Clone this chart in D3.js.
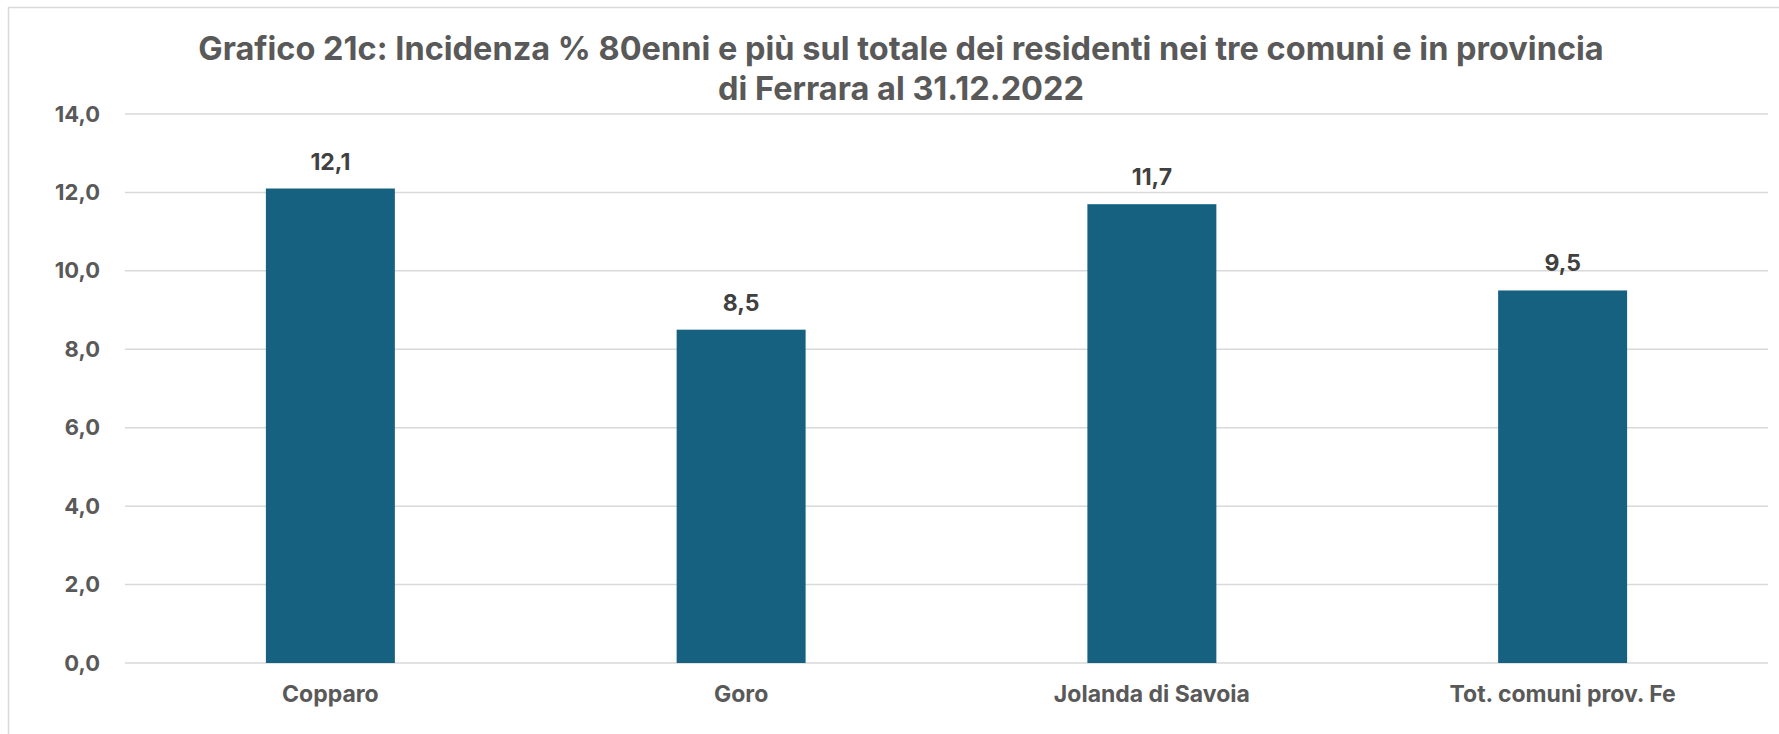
<!DOCTYPE html>
<html>
<head>
<meta charset="utf-8">
<script src="https://cdn.jsdelivr.net/npm/d3@7"></script>
<style>
  html, body { margin: 0; padding: 0; background: #fff; }
  svg { display: block; }
</style>
</head>
<body>
<script>
const width = 1779;
const height = 734;

const titleLines = [
  "Grafico 21c: Incidenza % 80enni e più sul totale dei residenti nei tre comuni e in provincia",
  "di Ferrara al 31.12.2022"
];
const categories = ["Copparo", "Goro", "Jolanda di Savoia", "Tot. comuni prov. Fe"];
const values = [12.1, 8.5, 11.7, 9.5];
const yTicks = [0, 2, 4, 6, 8, 10, 12, 14];

const margin = { top: 114, right: 11, bottom: 71, left: 125 };
const fmt = v => d3.format(".1f")(v).replace(".", ",");
const font = "Inter, 'Liberation Sans', Arial, sans-serif";

const svg = d3.select("body")
  .append("svg")
  .attr("width", width)
  .attr("height", height)
  .style("font-family", font);

// chart border
svg.append("rect")
  .attr("x", 8.5)
  .attr("y", 7.5)
  .attr("width", width + 20)
  .attr("height", height + 20)
  .attr("fill", "none")
  .attr("stroke", "#d9d9d9")
  .attr("stroke-width", 1.5);

const x = d3.scaleBand()
  .domain(categories)
  .range([margin.left, width - margin.right])
  .paddingInner(0.686)
  .paddingOuter(0.343);

const y = d3.scaleLinear()
  .domain([0, 14])
  .range([height - margin.bottom, margin.top]);

// gridlines
svg.append("g")
  .selectAll("line")
  .data(yTicks)
  .enter()
  .append("line")
  .attr("x1", margin.left)
  .attr("x2", width - margin.right)
  .attr("y1", d => y(d))
  .attr("y2", d => y(d))
  .attr("stroke", "#d9d9d9")
  .attr("stroke-width", 1.5);

// y axis labels
const yAxis = svg.append("g")
  .attr("transform", `translate(${margin.left - 25},0)`)
  .call(d3.axisLeft(y).tickValues(yTicks).tickFormat(fmt).tickSize(0).tickPadding(0));
yAxis.select(".domain").remove();
yAxis.selectAll("text")
  .style("font-family", font)
  .style("font-size", "22px")
  .style("font-weight", "bold")
  .attr("fill", "#595959");

// x axis labels
const xAxis = svg.append("g")
  .attr("transform", `translate(0,${y(0) + 23})`)
  .call(d3.axisBottom(x).tickSize(0).tickPadding(0));
xAxis.select(".domain").remove();
xAxis.selectAll("text")
  .style("font-family", font)
  .style("font-size", "23px")
  .style("font-weight", "bold")
  .attr("fill", "#595959");

// bars
svg.append("g")
  .selectAll("rect")
  .data(values)
  .enter()
  .append("rect")
  .attr("x", (d, i) => x(categories[i]))
  .attr("y", d => y(d))
  .attr("width", x.bandwidth())
  .attr("height", d => y(0) - y(d))
  .attr("fill", "#166080");

// value labels
svg.append("g")
  .selectAll("text")
  .data(values)
  .enter()
  .append("text")
  .attr("x", (d, i) => x(categories[i]) + x.bandwidth() / 2)
  .attr("y", d => y(d) - 19)
  .attr("text-anchor", "middle")
  .style("font-size", "23px")
  .style("font-weight", "bold")
  .attr("fill", "#404040")
  .text(fmt);

// title
svg.append("g")
  .selectAll("text")
  .data(titleLines)
  .enter()
  .append("text")
  .attr("x", 901)
  .attr("y", (d, i) => 60 + i * 40)
  .attr("text-anchor", "middle")
  .style("font-size", "32.5px")
  .style("font-weight", "bold")
  .attr("fill", "#595959")
  .text(d => d);
</script>
</body>
</html>
